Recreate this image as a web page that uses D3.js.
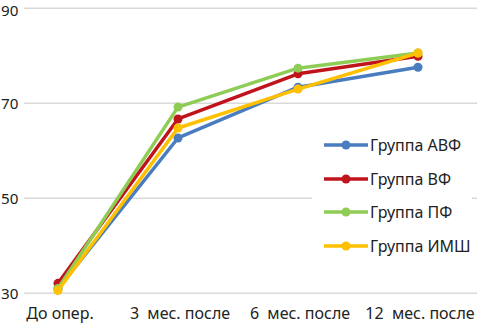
<!DOCTYPE html>
<html><head><meta charset="utf-8">
<script src="https://cdn.jsdelivr.net/npm/d3@7"></script>
<style>body{margin:0;background:#fff}svg{display:block}text{font-family:"Noto Sans",sans-serif;fill:#222}</style>
</head><body><svg id="c" width="477" height="326"></svg>
<script>
const categories = ["До опер.", "3  мес. после", "6  мес. после", "12  мес. после"];
const seriesNames = ["Группа АВФ", "Группа ВФ", "Группа ПФ", "Группа ИМШ"];
const seriesColors = ["#4a7dbf", "#c0141c", "#8fcc55", "#ffc000"];
const valuesAVF = [31.0, 62.7, 73.4, 77.6];
const valuesVF  = [32.1, 66.7, 76.2, 79.9];
const valuesPF  = [31.0, 69.2, 77.4, 80.6];
const valuesIMSh= [30.6, 64.8, 73.0, 80.6];
const yTicks = [30, 50, 70, 90];

const series = [valuesAVF, valuesVF, valuesPF, valuesIMSh].map((v,i)=>({name:seriesNames[i], color:seriesColors[i], values:v}));

const svg = d3.select("#c");
const x = d3.scalePoint().domain(categories).range([58, 418]);
const y = d3.scaleLinear().domain([30, 90]).range([293.3, 8.3]);

// grid
const gridG = svg.append("g");
gridG.selectAll("line").data(yTicks).join("line")
  .attr("x1", 24).attr("x2", 477)
  .attr("y1", d=>y(d)).attr("y2", d=>y(d))
  .attr("stroke", "#d9d9d9").attr("stroke-width", 1.5);

// y labels
svg.append("g").selectAll("text").data(yTicks).join("text")
  .attr("x", 1).attr("y", d=>Math.max(y(d)+5.5, 16.2))
  .attr("font-size", 15.2).text(d=>d);

// x labels
svg.append("g").selectAll("text").data(categories).join("text")
  .attr("x", d=>x(d)+2).attr("y", 319).attr("text-anchor","middle")
  .attr("font-size", 16).attr("xml:space","preserve").style("white-space","pre").text(d=>d);

// lines
const line = d3.line().x((d,i)=>x(categories[i])).y(d=>y(d));
const sg = svg.append("g").selectAll("g").data(series).join("g");
sg.append("path").attr("d", d=>line(d.values)).attr("fill","none")
  .attr("stroke", d=>d.color).attr("stroke-width", 3.5).attr("stroke-linejoin","round");
sg.selectAll("circle").data(d=>d.values.map(v=>({v, c:d.color}))).join("circle")
  .attr("cx", (d,i)=>x(categories[i])).attr("cy", d=>y(d.v)).attr("r", 4.5)
  .attr("fill", d=>d.c);

// legend
const lg = svg.append("g");
lg.append("rect").attr("x", 312).attr("y", 128).attr("width", 160).attr("height", 140).attr("fill", "#fff");
const li = lg.selectAll("g").data(series).join("g")
  .attr("transform", (d,i)=>`translate(0,${[145,179,212,246][i]})`);
li.append("line").attr("x1", 324).attr("x2", 368).attr("y1", 0).attr("y2", 0)
  .attr("stroke", d=>d.color).attr("stroke-width", 3.5);
li.append("circle").attr("cx", 346).attr("cy", 0).attr("r", 4.5).attr("fill", d=>d.color);
li.append("text").attr("x", 370).attr("y", 5.5).attr("font-size", 16).text(d=>d.name);
</script></body></html>
